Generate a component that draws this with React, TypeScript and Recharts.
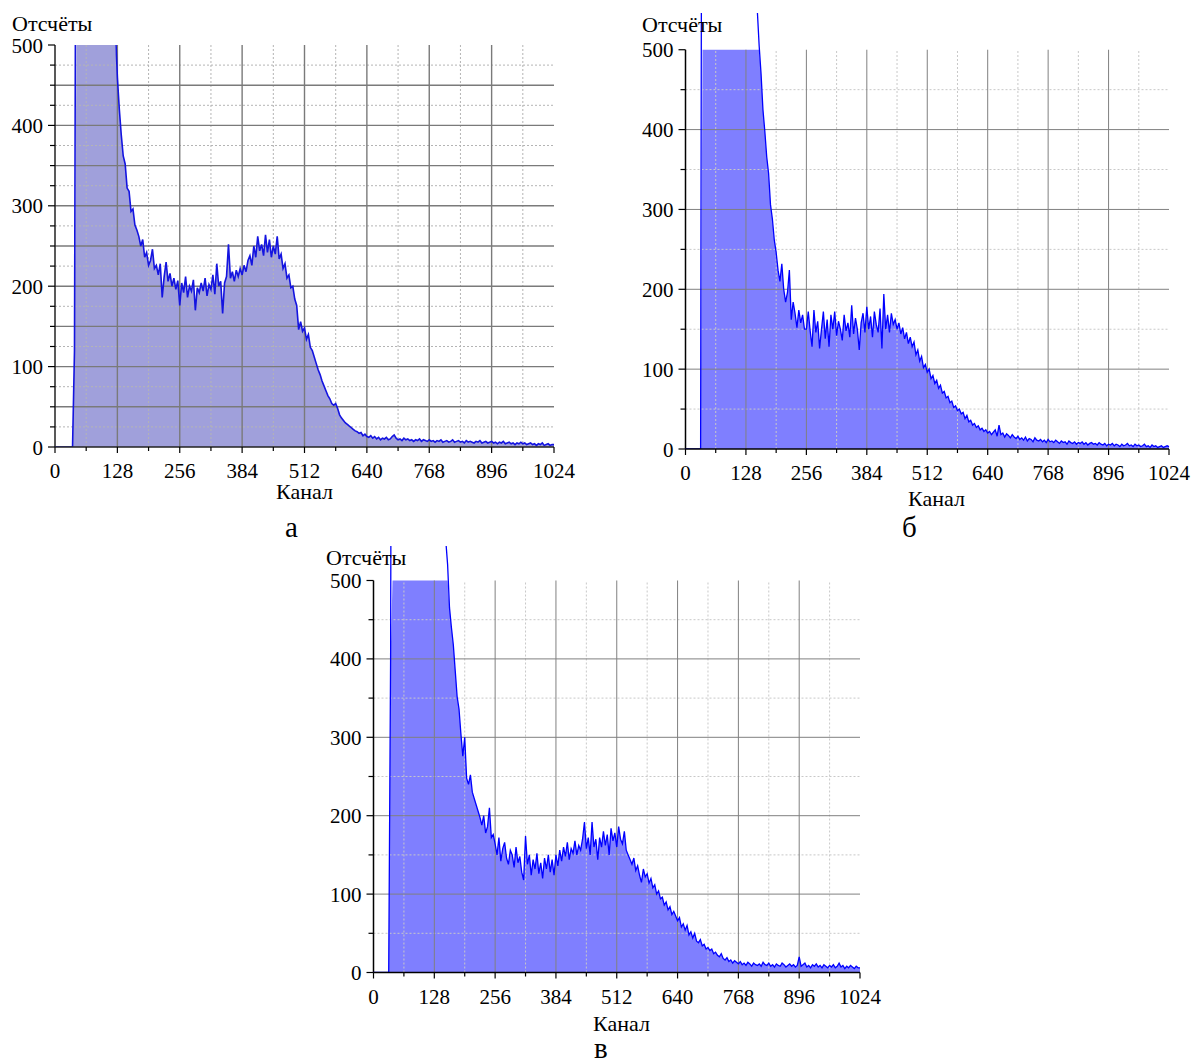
import { ComposedChart, Area, Line, XAxis, YAxis, ReferenceLine } from "recharts";

// channel step between stored samples
const CHANNEL_STEP = 4;

const xTicks = [0, 64, 128, 192, 256, 320, 384, 448, 512, 576, 640, 704, 768, 832, 896, 960, 1024];
const xSolid = [128, 256, 384, 512, 640, 768, 896];
const xDotted = [64, 192, 320, 448, 576, 704, 832, 960];

// panel "а"
const countsA = [
  0, 0, 0, 0, 0, 0, 0, 0, 0, 0, 120, 980, 1020, 990, 1010, 1000,
  1000, 990, 1010, 980, 960, 940, 900, 880, 850, 820, 780, 740, 700, 650, 600, 520,
  460, 420, 388, 362, 352, 322, 318, 293, 296, 276, 270, 262, 250, 258, 236, 242,
  226, 232, 246, 222, 226, 214, 228, 186, 212, 230, 206, 216, 200, 210, 196, 207,
  176, 204, 192, 212, 186, 200, 194, 208, 170, 198, 192, 204, 194, 210, 188, 202,
  196, 214, 190, 228, 200, 206, 166, 204, 212, 252, 210, 218, 206, 220, 212, 222,
  214, 226, 218, 232, 238, 226, 250, 236, 262, 244, 252, 238, 264, 242, 258, 236,
  250, 240, 262, 234, 240, 222, 228, 210, 214, 198, 200, 184, 176, 146, 156, 144,
  148, 134, 140, 124, 120, 112, 104, 96, 90, 82, 76, 70, 64, 60, 54, 52,
  54, 48, 40, 36, 33, 30, 28, 26, 24, 22, 20, 19, 17, 18, 14, 16,
  13, 12, 14, 11, 13, 10, 12, 9, 11, 10, 12, 9, 10, 13, 15, 11,
  9, 10, 8, 11, 9, 10, 8, 9, 7, 9, 8, 10, 7, 9, 8, 7,
  9, 7, 8, 6, 8, 7, 9, 6, 7, 8, 6, 7, 9, 6, 7, 8,
  6, 7, 5, 8, 6, 7, 6, 5, 7, 6, 8, 5, 6, 7, 5, 6,
  7, 5, 6, 4, 6, 5, 7, 4, 5, 6, 4, 5, 3, 5, 4, 6,
  4, 5, 3, 4, 5, 3, 4, 2, 4, 3, 5, 2, 3, 4, 2, 3,
  3,
];

// panel "б"
const countsB = [
  0, 0, 0, 0, 0, 0, 0, 0, 0, 1400, 1600, 1700, 1750, 1800, 1780, 1760,
  1740, 1700, 1660, 1600, 1540, 1480, 1400, 1320, 1250, 1160, 1080, 1000, 940, 870, 800, 740,
  690, 660, 630, 610, 590, 570, 550, 505, 470, 425, 398, 366, 345, 306, 288, 262,
  246, 224, 210, 232, 200, 184, 196, 224, 162, 184, 170, 152, 174, 158, 168, 150,
  150, 172, 148, 128, 174, 146, 160, 126, 150, 172, 138, 162, 128, 168, 150, 172,
  142, 160, 150, 136, 168, 148, 158, 140, 180, 144, 164, 150, 124, 158, 170, 146,
  178, 150, 166, 140, 172, 156, 146, 176, 126, 194, 150, 168, 146, 170, 156, 162,
  150, 158, 144, 152, 138, 146, 132, 140, 128, 134, 118, 124, 110, 116, 102, 106,
  96, 100, 88, 92, 82, 86, 76, 80, 70, 72, 64, 66, 58, 60, 52, 54,
  48, 50, 44, 46, 38, 42, 34, 36, 30, 32, 27, 29, 24, 26, 22, 24,
  20, 22, 18, 21, 24, 16, 30, 18, 20, 15, 19, 17, 14, 18, 15, 13,
  16, 12, 14, 11, 15, 10, 13, 12, 9, 14, 11, 10, 12, 9, 11, 8,
  12, 9, 10, 8, 11, 9, 7, 10, 8, 9, 6, 10, 8, 7, 9, 6,
  8, 7, 9, 6, 8, 5, 7, 8, 6, 7, 5, 8, 6, 5, 7, 4,
  6, 5, 7, 4, 6, 5, 3, 6, 4, 5, 7, 4, 5, 3, 6, 4,
  5, 3, 4, 6, 3, 4, 2, 5, 3, 4, 2, 3, 4, 2, 3, 4,
  3,
];

// panel "в"
const countsC = [
  0, 0, 0, 0, 0, 0, 0, 0, 0, 400, 1500, 1600, 1700, 1750, 1780, 1760,
  1740, 1700, 1650, 1600, 1540, 1470, 1400, 1320, 1240, 1160, 1080, 1000, 930, 860, 800, 740,
  690, 660, 630, 605, 585, 568, 552, 520, 465, 440, 418, 385, 352, 336, 304, 276,
  300, 248, 240, 252, 230, 222, 214, 206, 198, 188, 200, 178, 186, 210, 172, 176,
  164, 150, 172, 142, 158, 166, 146, 138, 156, 150, 134, 160, 140, 148, 128, 118,
  174, 138, 150, 124, 144, 132, 152, 126, 140, 120, 146, 132, 150, 128, 144, 124,
  150, 136, 156, 142, 160, 148, 166, 144, 158, 152, 168, 150, 162, 156, 170, 192,
  158, 172, 150, 192, 160, 170, 144, 172, 160, 180, 162, 176, 150, 184, 168, 178,
  160, 186, 170, 164, 180, 156, 150, 144, 138, 146, 130, 136, 124, 115, 132, 122,
  126, 114, 120, 108, 112, 100, 104, 94, 96, 86, 90, 80, 84, 74, 78, 72,
  66, 70, 58, 62, 54, 60, 48, 52, 44, 50, 40, 38, 42, 34, 36, 30,
  32, 28, 30, 24, 26, 22, 20, 24, 18, 16, 19, 14, 16, 12, 15, 13,
  11, 14, 10, 12, 9, 13, 11, 8, 12, 10, 9, 11, 8, 13, 10, 9,
  12, 8, 10, 7, 11, 9, 8, 12, 10, 7, 9, 11, 8, 10, 7, 9,
  20, 8, 10, 12, 7, 9, 6, 10, 8, 11, 7, 9, 6, 10, 8, 6,
  9, 7, 10, 6, 8, 12, 7, 9, 5, 8, 6, 9, 7, 5, 8, 6,
  6,
];

const FONT = "Liberation Serif, DejaVu Serif, serif";

type Style = {
  fill: string;
  fillOpacity: number;
  stroke: string;
  strokeWidth: number;
  gridSolid: string;
  gridSolidWidth: number;
  gridDotted: string;
  axis: string;
};

type PanelProps = {
  counts: number[];
  left: number;
  top: number;
  width: number;
  height: number;
  margin: { top: number; right: number; bottom: number; left: number };
  yAxisWidth: number;
  xAxisHeight: number;
  yMax: number;
  yTicks: number[];
  hSolid: number[];
  hDotted: number[];
  style: Style;
};

function XTick(props: any) {
  const { x, y, payload } = props;
  const v = payload.value;
  const major = v % 128 === 0;
  return (
    <g>
      <line x1={x} x2={x} y1={y} y2={y + (major ? 6 : 4)} stroke="#000" strokeWidth={1.2} />
      {major && (
        <text x={x} y={y + 31} textAnchor="middle" style={{ fontFamily: FONT, fontSize: 21 }} fill="#000">
          {v}
        </text>
      )}
    </g>
  );
}

function YTick(props: any) {
  const { x, y, payload } = props;
  const v = payload.value;
  const major = v % 100 === 0;
  return (
    <g>
      <line x1={x - (major ? 7 : 5)} x2={x} y1={y} y2={y} stroke="#000" strokeWidth={1.2} />
      {major && (
        <text x={x - 12} y={y + 7.5} textAnchor="end" style={{ fontFamily: FONT, fontSize: 21 }} fill="#000">
          {v}
        </text>
      )}
    </g>
  );
}

function Panel(p: PanelProps) {
  const rows = p.counts.map((v, i) => ({ ch: i * CHANNEL_STEP, count: v, fill: Math.min(v, 500) }));
  const s = p.style;
  return (
    <div style={{ position: "absolute", left: p.left, top: p.top }}>
      <ComposedChart width={p.width} height={p.height} data={rows} margin={p.margin}>
        {p.hDotted.map((v) => (
          <ReferenceLine key={"hd" + v} segment={[{ x: 0, y: v }, { x: 1024, y: v }]} stroke={s.gridDotted} strokeDasharray="2 2" />
        ))}
        {xDotted.map((c) => (
          <ReferenceLine key={"vd" + c} segment={[{ x: c, y: 0 }, { x: c, y: 500 }]} stroke={s.gridDotted} strokeDasharray="2 2" />
        ))}
        {p.hSolid.map((v) => (
          <ReferenceLine key={"hs" + v} segment={[{ x: 0, y: v }, { x: 1024, y: v }]} stroke={s.gridSolid} strokeWidth={s.gridSolidWidth} />
        ))}
        {xSolid.map((c) => (
          <ReferenceLine key={"vs" + c} segment={[{ x: c, y: 0 }, { x: c, y: 500 }]} stroke={s.gridSolid} strokeWidth={s.gridSolidWidth} />
        ))}
        <XAxis
          dataKey="ch"
          type="number"
          domain={[0, 1024]}
          ticks={xTicks}
          interval={0}
          height={p.xAxisHeight}
          tickSize={0}
          tickMargin={0}
          tickLine={false}
          tick={<XTick />}
          axisLine={{ stroke: s.axis, strokeWidth: 1.5 }}
        />
        <YAxis
          type="number"
          domain={[0, p.yMax]}
          allowDataOverflow
          ticks={p.yTicks}
          interval={0}
          width={p.yAxisWidth}
          tickSize={0}
          tickMargin={0}
          tickLine={false}
          tick={<YTick />}
          axisLine={false}
        />
        <ReferenceLine segment={[{ x: 0, y: 0 }, { x: 0, y: 500 }]} stroke={s.axis} strokeWidth={1.5} />
        <Area
          type="linear"
          dataKey="fill"
          stroke="none"
          fill={s.fill}
          fillOpacity={s.fillOpacity}
          isAnimationActive={false}
        />
        <Line
          type="linear"
          dataKey="count"
          stroke={s.stroke}
          strokeWidth={s.strokeWidth}
          dot={false}
          activeDot={false}
          isAnimationActive={false}
        />
      </ComposedChart>
    </div>
  );
}

const styleA: Style = {
  fill: "#2c2cb0",
  fillOpacity: 0.45,
  stroke: "#1414e0",
  strokeWidth: 1.6,
  gridSolid: "#7a7a7a",
  gridSolidWidth: 1.4,
  gridDotted: "#b4b4b4",
  axis: "#222",
};

const styleBC: Style = {
  fill: "#0000ff",
  fillOpacity: 0.5,
  stroke: "#0000ff",
  strokeWidth: 1.3,
  gridSolid: "#808080",
  gridSolidWidth: 1,
  gridDotted: "#c8c8c8",
  axis: "#000",
};

const ticksA = [0, 25, 50, 75, 100, 125, 150, 175, 200, 225, 250, 275, 300, 325, 350, 375, 400, 425, 450, 475, 500];
const ticksBC = [0, 50, 100, 150, 200, 250, 300, 350, 400, 450, 500];

function Caption({ text, left, baseline, size }: { text: string; left: number; baseline: number; size: number }) {
  return (
    <div
      style={{
        position: "absolute",
        left,
        top: baseline - size * 0.7125,
        fontSize: size,
        lineHeight: `${size * 0.75}px`,
        fontFamily: FONT,
        color: "#000",
        whiteSpace: "nowrap",
      }}
    >
      {text}
    </div>
  );
}

export default function App() {
  return (
    <div style={{ position: "absolute", left: 0, top: 0, width: 1195, height: 1064, background: "#fff", overflow: "hidden", fontFamily: FONT }}>
      <Panel
        counts={countsA}
        left={0}
        top={0}
        width={600}
        height={520}
        margin={{ top: 45, right: 46, bottom: 0, left: 0 }}
        yAxisWidth={55}
        xAxisHeight={73}
        yMax={500}
        yTicks={ticksA}
        hSolid={[50, 100, 150, 200, 250, 300, 350, 400, 450]}
        hDotted={[25, 75, 125, 175, 225, 275, 325, 375, 425, 475]}
        style={styleA}
      />
      <Panel
        counts={countsB}
        left={620}
        top={0}
        width={575}
        height={520}
        margin={{ top: 13, right: 26, bottom: 0, left: 0 }}
        yAxisWidth={65.5}
        xAxisHeight={71}
        yMax={546}
        yTicks={ticksBC}
        hSolid={[100, 200, 300, 400]}
        hDotted={[50, 150, 250, 350, 450]}
        style={styleBC}
      />
      <Panel
        counts={countsC}
        left={300}
        top={530}
        width={590}
        height={534}
        margin={{ top: 16, right: 30, bottom: 0, left: 0 }}
        yAxisWidth={73.5}
        xAxisHeight={91.5}
        yMax={544}
        yTicks={ticksBC}
        hSolid={[100, 200, 300, 400]}
        hDotted={[50, 150, 250, 350, 450]}
        style={styleBC}
      />
      <Caption text="Отсчёты" left={12} baseline={32} size={22} />
      <Caption text="Канал" left={276} baseline={500} size={22} />
      <Caption text="а" left={285} baseline={538} size={29} />
      <Caption text="Отсчёты" left={642} baseline={33} size={22} />
      <Caption text="Канал" left={908} baseline={507} size={22} />
      <Caption text="б" left={902} baseline={538} size={29} />
      <Caption text="Отсчёты" left={326} baseline={566} size={22} />
      <Caption text="Канал" left={593} baseline={1032} size={22} />
      <Caption text="в" left={594} baseline={1059} size={29} />
    </div>
  );
}
